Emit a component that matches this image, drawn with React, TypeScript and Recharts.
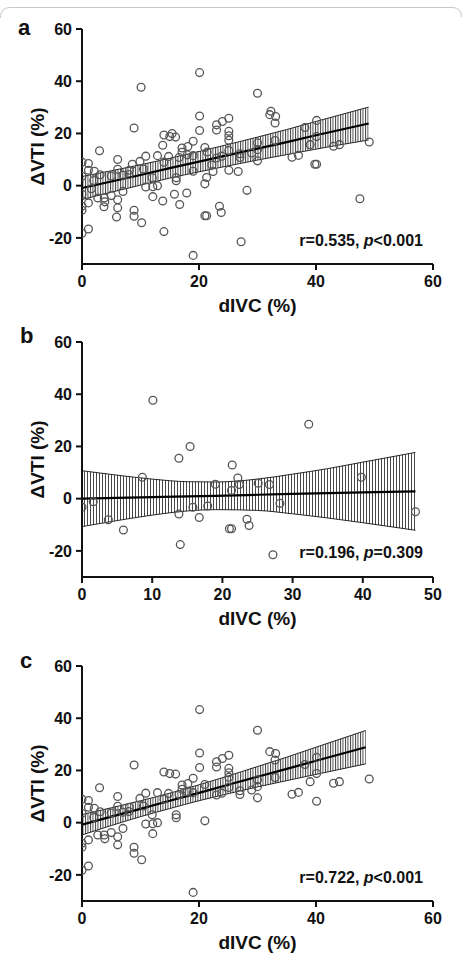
import React from 'react';
import { ComposedChart, Scatter, Area, Line, XAxis, YAxis } from 'recharts';

// panel b subgroup: dIVC (%) and ΔVTI (%)
const bX = [0, 1.6, 3.75, 5.9, 8.6, 10.1, 13.8, 13.8, 14.0, 15.4, 15.8, 16.7, 17.9, 19.0, 21.0, 21.3,
  21.4, 21.3, 22.2, 22.4, 23.5, 23.8, 25.1, 26.7, 27.2, 28.2, 32.3, 39.8, 47.5];
const bY = [-3.3, -1.2, -8.1, -12.0, 8.2, 37.7, 15.5, -5.9, -17.6, 20.0, -3.3, -7.2, -2.8, 5.5, -11.5, -11.5,
  12.9, 3.1, 7.9, 5.4, -7.9, -10.3, 5.9, 5.4, -21.5, -1.8, 28.5, 8.2, -5.0];

// panel c subgroup
const cX = [0, 0, 0, 0, 0, 1.1, 1.1, 1.1, 1.1, 2.1, 2.7, 3.0, 3.1, 2.0, 3.8, 3.9, 5.0, 5.0,
  6.1, 6.1, 6.1, 6.1, 7.0, 7.0, 8.1, 8.0, 8.9, 8.9, 8.9, 9.9, 10.2, 10.5, 10.9, 10.9, 12.0, 12.1, 12.1,
  12.9, 12.9, 14.0, 14.0, 14.8, 15.0, 16.0, 16.1, 16.1, 16.6, 17.1, 17.1, 18.1, 18.0, 19.0, 19.0, 19.0,
  20.1, 20.1, 20.1, 21.0, 21.0, 23.0, 23.0, 23.0, 24.0, 23.9, 25.1, 25.1, 25.1, 25.1, 25.1, 27.0, 27.0, 29.0,
  30.0, 30.0, 30.0, 30.0, 32.1, 33.1, 33.0, 33.0, 35.9, 37.0, 38.1, 39.0, 40.1, 40.1, 40.1, 43.0, 44.0, 49.1];
const cY = [9.0, 3.6, -7.9, -9.4, -18.2, 8.5, 5.9, -6.6, -16.6, 5.5, -4.7, 13.4, 4.2, 2.0, -4.7, -6.2, 3.7, -3.8,
  10.0, 6.3, -5.4, -8.5, 4.0, -2.2, 5.9, 4.3, 22.1, -9.4, -11.7, 9.3, -14.2, 6.4, 11.3, -0.5, 3.0, -0.4, -4.2,
  11.5, 0, 19.4, 9.0, 11.2, 18.8, 18.6, 3.0, 1.9, 10.8, 14.4, 12.8, 15.0, 11.8, 17.0, 11.5, -26.7,
  43.3, 26.7, 21.1, 14.6, 0.7, 23.3, 21.3, 10.6, 24.6, 11.3, 25.8, 20.8, 19.1, 17.4, 13.5, 12.2, 10.8, 12.5,
  35.4, 16.4, 13.8, 9.5, 27.2, 26.5, 24.0, 17.3, 10.9, 11.6, 22.3, 15.7, 25.0, 18.8, 8.2, 15.1, 15.7, 16.7];

// regression line and 95% band
const bandAX = [0, 5, 10, 15, 20, 25, 30, 35, 40, 49];
const fitA = [-0.9, 1.6, 4.1, 6.7, 9.2, 11.7, 14.2, 16.7, 19.3, 23.8];
const loA = [-5.3, -2.5, 0.2, 2.9, 5.3, 7.6, 9.8, 11.9, 14.0, 17.5];
const hiA = [3.5, 5.7, 8.0, 10.5, 13.1, 15.8, 18.6, 21.5, 24.6, 30.1];

const bandBX = [0, 5, 10, 15, 19, 25, 30, 35, 40, 47.5];
const fitB = [0, 0.3, 0.6, 0.9, 1.1, 1.5, 1.8, 2.1, 2.4, 2.8];
const loB = [-10.7, -8.4, -6.3, -4.7, -4.2, -4.5, -5.8, -7.4, -9.2, -12.1];
const hiB = [10.7, 9.0, 7.5, 6.5, 6.4, 7.5, 9.4, 11.5, 14.0, 17.7];

const bandCX = [0, 5, 10, 15, 20, 25, 30, 35, 40, 48.5];
const fitC = [-0.8, 2.3, 5.3, 8.4, 11.4, 14.5, 17.6, 20.6, 23.7, 28.9];
const loC = [-4.7, -1.1, 2.3, 5.4, 8.4, 11.1, 13.7, 16.1, 18.5, 22.5];
const hiC = [3.1, 5.7, 8.4, 11.3, 14.5, 17.9, 21.5, 25.1, 28.9, 35.3];

const yTicks = [-20, 0, 20, 40, 60];
const xTicks60 = [0, 20, 40, 60];
const xTicks50 = [0, 10, 20, 30, 40, 50];

const toPoints = (xs: number[], ys: number[]) => xs.map((x, i) => ({ x, y: ys[i] }));
const toBand = (xs: number[], fit: number[], lo: number[], hi: number[]) =>
  xs.map((x, i) => ({ x, fit: fit[i], lo: lo[i], hi: hi[i] }));

const FONT = "'Liberation Sans', Arial, Helvetica, sans-serif";
const tickStyle = { fill: '#111', fontSize: 16, fontWeight: 700, fontFamily: FONT };

const Ring = (p: any) => (
  <circle cx={p.cx} cy={p.cy} r={3.9} fill="none" stroke="#555" strokeWidth={1.3} />
);

interface PanelProps {
  top: number;
  id: string;
  points: { x: number; y: number }[];
  band: { x: number; fit: number; lo: number; hi: number }[];
  xMax: number;
  xTicks: number[];
  hatch: number;
}

const Panel: React.FC<PanelProps> = ({ top, id, points, band, xMax, xTicks, hatch }) => (
  <div style={{ position: 'absolute', left: 0, top }}>
    <ComposedChart width={463} height={316} data={band} margin={{ top: 29, right: 30, bottom: 0, left: 0 }}>
      <defs>
        <pattern id={id} patternUnits="userSpaceOnUse" width={hatch} height={8}>
          <line x1={0.5} y1={0} x2={0.5} y2={8} stroke="#333" strokeWidth={0.9} />
        </pattern>
      </defs>
      <XAxis
        dataKey="x"
        type="number"
        domain={[0, xMax]}
        ticks={xTicks}
        allowDataOverflow
        height={52}
        axisLine={{ stroke: '#111', strokeWidth: 2 }}
        tickLine={{ stroke: '#111', strokeWidth: 2 }}
        tickSize={6}
        tickMargin={6}
        tick={tickStyle}
        label={{ value: 'dIVC (%)', position: 'insideBottom', offset: 4, fill: '#111', fontSize: 19, fontWeight: 700, fontFamily: FONT }}
      />
      <YAxis
        dataKey="y"
        type="number"
        domain={[-30, 60]}
        ticks={yTicks}
        allowDataOverflow
        width={82}
        axisLine={{ stroke: '#111', strokeWidth: 2 }}
        tickLine={{ stroke: '#111', strokeWidth: 2 }}
        tickSize={6}
        tickMargin={4}
        tick={tickStyle}
        label={{ value: 'ΔVTI (%)', angle: -90, position: 'insideLeft', offset: 37, fill: '#111', fontSize: 19, fontWeight: 700, fontFamily: FONT, style: { textAnchor: 'middle' } }}
      />
      <Area
        dataKey={(d: any) => [d.lo, d.hi]}
        type="monotone"
        stroke="#111"
        strokeWidth={0.9}
        fill={`url(#${id})`}
        fillOpacity={1}
        isAnimationActive={false}
      />
      <Line dataKey="fit" type="linear" stroke="#000" strokeWidth={2.2} dot={false} isAnimationActive={false} />
      <Scatter data={points} shape={Ring} isAnimationActive={false} />
    </ComposedChart>
  </div>
);

export default function App() {
  const bPts = toPoints(bX, bY);
  const cPts = toPoints(cX, cY);
  const aPts = [...bPts, ...cPts];

  return (
    <div style={{ position: 'relative', width: 463, height: 960, background: '#fff', fontFamily: FONT, overflow: 'hidden' }}>
      <style>{'body{margin:0}'}</style>
      <Panel top={0} id="hatchA" hatch={2.5} points={aPts} band={toBand(bandAX, fitA, loA, hiA)} xMax={60} xTicks={xTicks60} />
      <Panel top={313} id="hatchB" hatch={3} points={bPts} band={toBand(bandBX, fitB, loB, hiB)} xMax={50} xTicks={xTicks50} />
      <Panel top={637} id="hatchC" hatch={2.5} points={cPts} band={toBand(bandCX, fitC, loC, hiC)} xMax={60} xTicks={xTicks60} />
      <svg width={463} height={960} style={{ position: 'absolute', left: 0, top: 0, pointerEvents: 'none' }}>
        <path d="M0.5,18 Q0.5,7.5 10,7.5 L452,7.5 Q461.5,7.5 461.5,17" fill="none" stroke="#c8c8c8" strokeWidth={1} />
        <g fill="#111" fontWeight={700} fontFamily={FONT}>
          <text x={18} y={35} fontSize={22}>a</text>
          <text x={20} y={343} fontSize={22}>b</text>
          <text x={20} y={668} fontSize={22}>c</text>
          <text x={423} y={246} fontSize={16} textAnchor="end">
            r=0.535, <tspan fontStyle="italic">p</tspan>&lt;0.001
          </text>
          <text x={423} y={558} fontSize={16} textAnchor="end">
            r=0.196, <tspan fontStyle="italic">p</tspan>=0.309
          </text>
          <text x={423} y={883} fontSize={16} textAnchor="end">
            r=0.722, <tspan fontStyle="italic">p</tspan>&lt;0.001
          </text>
        </g>
      </svg>
    </div>
  );
}
